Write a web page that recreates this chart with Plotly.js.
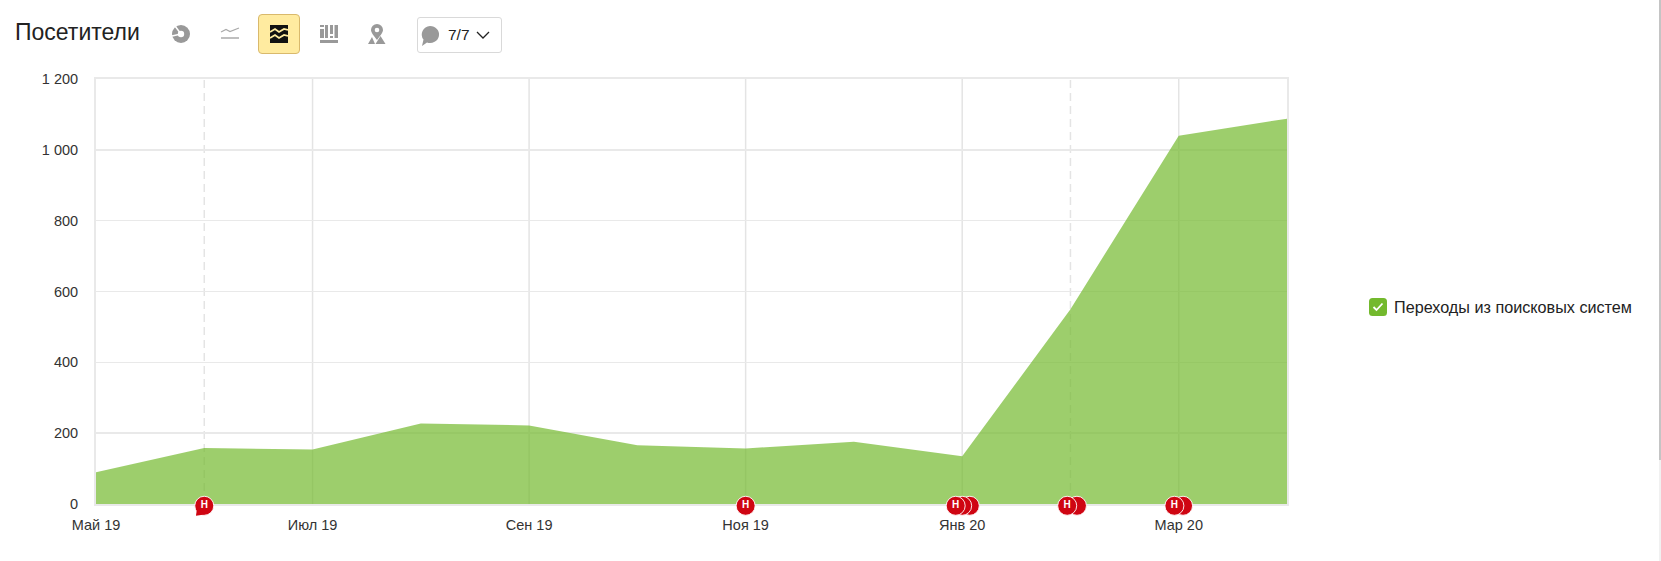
<!DOCTYPE html>
<html><head><meta charset="utf-8">
<script src="https://cdn.plot.ly/plotly-3.0.1.min.js"></script>
<style>
html,body{margin:0;padding:0;background:#fff;overflow:hidden}
#chart{position:absolute;left:0;top:0;width:1661px;height:561px}
#tools{position:absolute;left:0;top:0;width:1661px;height:561px;pointer-events:none}
.dd{position:absolute;left:417px;top:17px;width:83px;height:34px;border:1px solid #d9d9d9;border-radius:3px;font:15.500px "Liberation Sans",sans-serif;color:#222}
.dd span{position:absolute;left:30px;top:8px}
.on{position:absolute;left:258px;top:14px;width:40px;height:38px;background:#ffeba0;border:1px solid #d9b96c;border-radius:4px}
.sb{position:absolute;left:1659px;top:0;width:2px;height:460px;background:#c4c4c4}
.sb2{position:absolute;left:1659px;top:460px;width:2px;height:101px;background:#f1f1f1}
svg{position:absolute}
</style></head><body>
<div id="chart"></div>
<div id="tools">
<svg style="left:171px;top:24px" width="20" height="20" viewBox="0 0 20 20"><circle cx="10" cy="10" r="9" fill="#999"/><circle cx="10" cy="10" r="3.200" fill="#fff"/><path d="M10 10L4 2M10 10L1 12" stroke="#fff" stroke-width="1.500"/></svg>
<svg style="left:220px;top:25px" width="20" height="16" viewBox="0 0 20 16"><path d="M1 7l5-2.500 4 2 9-3.500" fill="none" stroke="#aaa" stroke-width="1.200"/><path d="M1 13h18" stroke="#aaa" stroke-width="1.500"/></svg>
<div class="on"></div>
<svg style="left:270px;top:25px" width="18" height="18" viewBox="0 0 18 18"><rect width="18" height="18" fill="#111"/><path d="M0 7l5-3 4 3 5-3 4 1M0 13l5-3 4 3 5-3 4 1" fill="none" stroke="#ffeba0" stroke-width="1.800"/></svg>
<svg style="left:319px;top:24px" width="20" height="20" viewBox="0 0 20 20" fill="#999"><rect x="1" y="1" width="4" height="2"/><rect x="1" y="5" width="4" height="9"/><rect x="6" y="1" width="3" height="13"/><rect x="11" y="1" width="3" height="9"/><rect x="11" y="12" width="3" height="2"/><rect x="15.500" y="1" width="3.500" height="13"/><rect x="1" y="16" width="18" height="3"/></svg>
<svg style="left:368px;top:23px" width="18" height="22" viewBox="0 0 18 22"><path d="M9 1a6 6 0 0 1 6 6c0 2.500-3 6-6 10C6 13 3 9.500 3 7a6 6 0 0 1 6-6z" fill="#999"/><circle cx="9" cy="7" r="2.300" fill="#fff"/><path d="M12.500 13l5 8H7.500z M4 14l3 7H0z" fill="#999"/></svg>
<div class="dd"><svg style="left:1px;top:6px" width="22" height="24" viewBox="0 0 22 24"><path d="M11 2a9 8.500 0 1 1-3 16.500L3 22l1.500-6.500A9 8.500 0 0 1 11 2z" fill="#999"/></svg><span>7/7</span><svg style="left:58px;top:13px" width="14" height="9" viewBox="0 0 14 9"><path d="M1 1l6 6 6-6" fill="none" stroke="#222" stroke-width="1.300"/></svg></div>
<svg style="left:1369px;top:298px" width="18" height="18" viewBox="0 0 18 18"><rect width="18" height="18" rx="3.500" fill="#73b92d"/><path d="M4.500 9l3 3 6-6.500" fill="none" stroke="#fff" stroke-width="1.800"/></svg>
<div class="sb"></div><div class="sb2"></div>
</div>
<script>
var months = ['Май 19','Июн 19','Июл 19','Авг 19','Сен 19','Окт 19','Ноя 19','Дек 19','Янв 20','Фев 20','Мар 20','Апр 20'];
var visitors = [90,158,154,227,222,166,157,176,135,550,1040,1088];
var monthIndex = [0,1,2,3,4,5,6,7,8,9,10,11];
var labelIndex = [0,2,4,6,8,10];
var labelText = ['Май 19','Июл 19','Сен 19','Ноя 19','Янв 20','Мар 20'];
var dashedIndex = [1,9];
var solidIndex = [2,4,6,8,10];
var noteX = [10.04,9.96,9.06,8.97,8.07,8.0,7.94,6,1];
var noteY = [-5,-5,-5,-5,-5,-5,-5,-5,-5];
var noteLabel = ['','Н','','Н','','','Н','Н','Н'];
var tailX = [0.953];
var tailY = [-24];
var seriesName = 'Переходы из поисковых систем';
var chartTitle = 'Посетители';
var GREY='#e9e9e9', TEXT='#333', FONT='"Liberation Sans", Arial, sans-serif', NOTE='#cf0512';

var H = 561, top_ = 79, bottom_ = 504, low = 531;
var traces = [
 {x:monthIndex,y:visitors,type:'scatter',mode:'lines',fill:'tozeroy',fillcolor:'rgba(115,185,45,0.7)',
  line:{color:'rgba(115,185,45,0)',width:0},name:seriesName,showlegend:false,hoverinfo:'x+y'},
 {x:noteX,y:noteY,yaxis:'y2',type:'scatter',mode:'markers+text',cliponaxis:false,showlegend:false,hoverinfo:'skip',
  text:noteLabel,textposition:'middle center',
  textfont:{family:FONT,size:10,color:'#fff',weight:700},
  marker:{size:19,color:NOTE,line:{color:'rgba(255,255,255,0.9)',width:1}}},
 {x:tailX,y:tailY,yaxis:'y2',type:'scatter',mode:'markers',cliponaxis:false,showlegend:false,hoverinfo:'skip',
  marker:{symbol:'triangle-down',angle:45,size:9,color:NOTE,line:{width:0}}}
];
function vline(i,dash){
  return {type:'line',layer:'below',xref:'x',yref:'y domain',x0:i,x1:i,y0:0,y1:1,line:{color:'#e4e4e4',width:1.500,dash:dash}};
}
var shapes = dashedIndex.map(function(i){return vline(i,'8px,5px');}).concat(solidIndex.map(function(i){return vline(i,'solid');}));
var plotH = low-top_;
var pxPerUnit = (bottom_-top_)/1200;
var plotW = 1287-96;
var layout = {
  width:1661,height:H,autosize:false,
  margin:{l:96,r:1661-1287,t:top_,b:H-low,pad:0},
  paper_bgcolor:'#fff',plot_bgcolor:'rgba(0,0,0,0)',
  separators:'. ',
  font:{family:FONT,size:14.500,color:TEXT},
  title:{text:chartTitle,x:15/1661,xref:'container',xanchor:'left',y:1-32/H,yref:'container',yanchor:'middle',font:{family:FONT,size:23,color:'#222'}},
  xaxis:{range:[0,11],type:'linear',tickmode:'array',tickvals:labelIndex,ticktext:labelText,anchor:'y',
    showgrid:false,zeroline:false,showline:true,linecolor:GREY,linewidth:2,mirror:true,ticks:'',ticklen:0,ticklabelstandoff:7,
    tickfont:{size:14.500,color:TEXT}},
  yaxis:{range:[0,1200],domain:[(low-bottom_)/plotH,1],tickmode:'array',tickvals:[0,200,400,600,800,1000,1200],tickformat:',d',
    showgrid:true,gridcolor:GREY,gridwidth:1.500,zeroline:false,showline:true,linecolor:GREY,linewidth:2,mirror:true,ticks:'',ticklabelstandoff:13,
    tickfont:{size:14.500,color:TEXT}},
  yaxis2:{range:[-(low-bottom_)/pxPerUnit,1200],domain:[0,1],visible:false,anchor:'x',fixedrange:true},
  shapes:shapes,
  annotations:[{text:seriesName,xref:'paper',yref:'paper',x:(1394-96)/plotW,y:(low-307)/plotH,xanchor:'left',yanchor:'middle',showarrow:false,xshift:-2,
    font:{family:FONT,size:16.200,color:'#222'}}]
};
Plotly.newPlot('chart',traces,layout,{displayModeBar:false,staticPlot:true});
</script>
</body></html>
